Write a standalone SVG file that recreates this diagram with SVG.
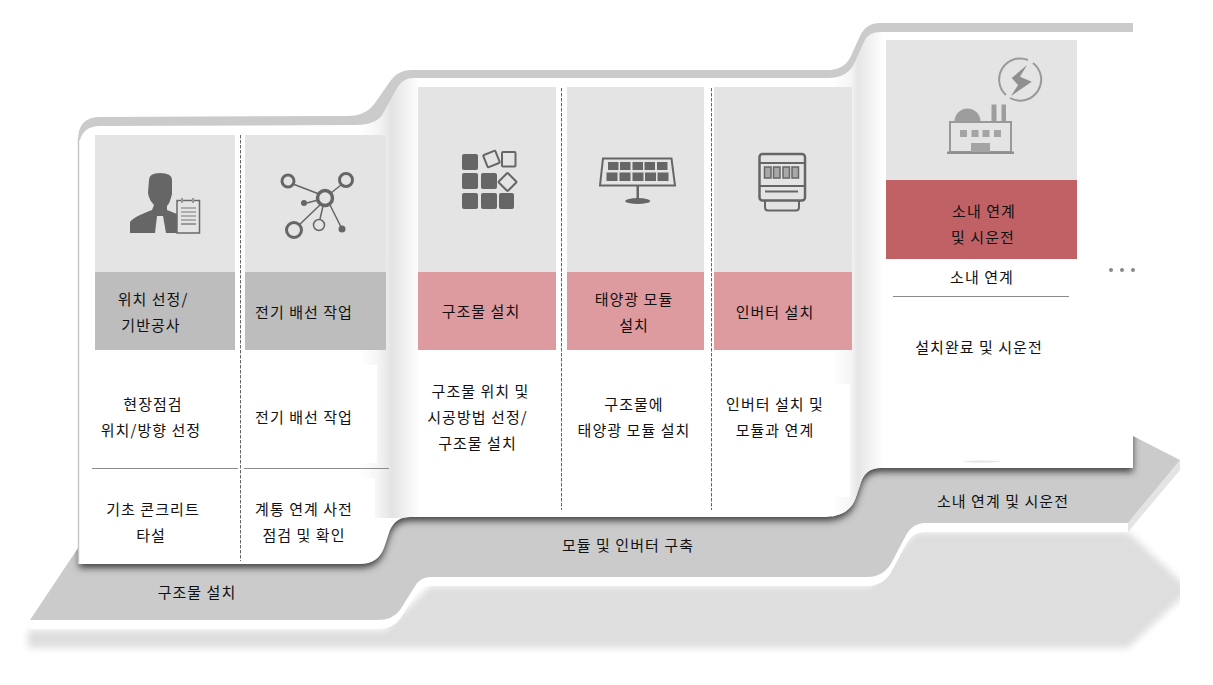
<svg xmlns="http://www.w3.org/2000/svg" width="1213" height="685" viewBox="0 0 1213 685">
<style>
text{font-family:"Noto Sans CJK KR","Liberation Sans",sans-serif;font-size:15px;letter-spacing:1.05px;fill:#111;text-anchor:middle}
.top{fill:#e4e4e4}.gr{fill:#bdbdbd}.pk{fill:#dd9a9f}.rd{fill:#c06165}
.ic{fill:#666}.ol{fill:none;stroke:#666;stroke-width:2}
.dash{stroke:#666;stroke-width:1;stroke-dasharray:3.500 1.500;fill:none}
.rule{stroke:#8c8c8c;stroke-width:1;fill:none}
</style>
<defs>
<path id="arrow" d="M30,620 L80,545 L80,480 L1133,436 L1180,460 L1128,523 L925,523 Q912,523 905,537 L893,560 Q885,577 867,577 L430,577 Q423,577 417,583 L400,610 Q393,620 377,620 Z"/>
<path id="body" d="M79,140 Q79,126 100,126 L355,126 Q378,125 384,112 L396,90 Q402,78 413,78 L828,78 Q848,78 855,62 L864,42 Q868,32 880,32 L1133,32 L1133,468 L880,468 Q866,468 861,482 L856,497 Q850,516 826,517 L410,517 Q396,517 390,530 L384,548 Q378,564 360,564 L79,564 Z"/>
<clipPath id="arrowClip"><use href="#arrow"/></clipPath>
<clipPath id="bodyClip"><use href="#body"/></clipPath>
<clipPath id="pageClip"><rect x="0" y="0" width="1180" height="685"/></clipPath>
<filter id="b3" x="-5%" y="-20%" width="110%" height="140%"><feGaussianBlur stdDeviation="3.500"/></filter>
<filter id="b4" x="-5%" y="-10%" width="110%" height="120%"><feGaussianBlur stdDeviation="3.500"/></filter>
<linearGradient id="fold1" gradientUnits="userSpaceOnUse" x1="360" x2="420" y1="0" y2="0"><stop offset="0" stop-color="#fff"/><stop offset=".3" stop-color="#f5f5f5"/><stop offset=".53" stop-color="#e3e3e3"/><stop offset="1" stop-color="#fff"/></linearGradient>
<linearGradient id="fold2" gradientUnits="userSpaceOnUse" x1="832" x2="884" y1="0" y2="0"><stop offset="0" stop-color="#fff"/><stop offset=".35" stop-color="#f5f5f5"/><stop offset=".5" stop-color="#e6e6e6"/><stop offset="1" stop-color="#fff"/></linearGradient>
</defs>

<g id="base">
<g clip-path="url(#pageClip)"><path filter="url(#b3)" fill="#dedede" d="M28,630 L385,630 L430,586 L870,586 L915,532 L1128,532 L1190,590 L1128,648 L28,648 Z"/></g>
<use href="#arrow" transform="translate(0,9)" fill="#fff"/>
<path fill="#e4e4e4" d="M1128,523 L1180,460 L1180,470 L1128,532 Z"/>
<use href="#arrow" fill="#cbcbcb"/>
<g clip-path="url(#arrowClip)"><use href="#body" transform="translate(0,4)" fill="#444" filter="url(#b4)"/></g>
<use href="#body" fill="#fff"/>
<g clip-path="url(#bodyClip)">
<rect x="360" y="70" width="60" height="448" fill="url(#fold1)"/>
<rect x="832" y="20" width="52" height="498" fill="url(#fold2)"/>
</g>
<rect x="245" y="365" width="132" height="98" fill="#fff"/>
<rect x="245" y="478" width="130" height="82" fill="#fff"/>
<rect x="714" y="384" width="136" height="113" fill="#fff"/>
<ellipse cx="982" cy="461.500" rx="18" ry="1" fill="#e6e6e6"/>
<path fill="#cbcbcb" d="M78,140 Q78,117 100,117 L345,116 Q365,117 375,103 L389,83 Q397,70 412,70 L830,70 Q845,69 851,56 L860,36 Q866,23 880,23 L1133,23 L1133,32 L880,32 Q868,32 864,42 L855,62 Q848,78 828,78 L413,78 Q402,78 396,90 L384,112 Q378,125 355,125 L100,126 Q84,126 80,140 Z"/>
<path d="M78.500,138 V564" stroke="#c8c8c8" stroke-width="1.500" fill="none"/>
</g>

<g id="dividers">
<path class="dash" d="M240.500,135 V561"/>
<path class="dash" d="M561.500,88 V510"/>
<path class="dash" d="M711.500,88 V510"/>
<path class="rule" d="M92,468.500 H238 M244,468.500 H389 M893,296.500 H1069"/>
</g>

<g id="node-site">
<rect class="top" x="95" y="135" width="140" height="137"/>
<rect class="gr" x="95" y="272" width="140" height="78"/>
<path class="ic" d="M149,180 Q149,173 160,173 Q172,173 172,180 L172,194 Q170,203 167,206 L167,210 L177,214 L177,233 L166,233 L163,216 L157,216 L155,233 L130,233 L130,222 Q133,217 152,210 L154,205 Q149,200 148,193 Z"/>
<rect x="177" y="200.500" width="22.500" height="32.500" fill="#e4e4e4" stroke="#6a6a6a" stroke-width="1.500"/>
<path stroke="#777" stroke-width="1.200" fill="none" d="M181,208 H196 M181,212 H196 M181,216 H196 M181,220 H196"/>
<path stroke="#999" stroke-width="2" fill="none" d="M181,224 H196 M182,198 V203 M193,198 V203"/>
<text x="153" y="305">위치 선정/</text><text x="151" y="331">기반공사</text>
<text x="153" y="410">현장점검</text><text x="151" y="436">위치/방향 선정</text>
<text x="153" y="515">기초 콘크리트</text><text x="151" y="541">타설</text>
</g>

<g id="node-wiring">
<rect class="top" x="245" y="135" width="141" height="137"/>
<rect class="gr" x="245" y="272" width="141" height="78"/>
<path stroke="#666" stroke-width="1.500" fill="none" d="M293,184 L319,194 M331,193 L341,185 M320,205 L298,226 M323,206 L320,219 M330,205 L341,227 M307,203 L318,200"/>
<circle cx="325" cy="198" r="7.500" fill="#e4e4e4" stroke="#666" stroke-width="3.500"/>
<circle cx="288" cy="181" r="6" fill="#e4e4e4" stroke="#666" stroke-width="3"/>
<circle cx="346" cy="180" r="6.500" fill="#e4e4e4" stroke="#666" stroke-width="3"/>
<circle cx="294" cy="230" r="7.500" fill="#e4e4e4" stroke="#666" stroke-width="3"/>
<circle cx="319" cy="225" r="5.500" fill="#e4e4e4" stroke="#666" stroke-width="1.500"/>
<circle class="ic" cx="304" cy="203" r="3"/><circle class="ic" cx="342" cy="229" r="3.500"/>
<text x="304" y="318">전기 배선 작업</text>
<text x="304" y="423">전기 배선 작업</text>
<text x="304" y="515">계통 연계 사전</text><text x="304" y="541">점검 및 확인</text>
</g>

<g id="node-structure">
<rect class="top" x="418" y="87" width="138" height="185"/>
<rect class="pk" x="418" y="272" width="138" height="78"/>
<g class="ic"><rect x="462" y="154" width="16" height="16" rx="2"/><rect x="462" y="173" width="16" height="16" rx="2"/><rect x="481" y="173" width="16" height="16" rx="2"/><rect x="462" y="193" width="16" height="16" rx="2"/><rect x="481" y="193" width="16" height="16" rx="2"/><rect x="499" y="193" width="15" height="16" rx="2"/></g>
<rect class="ol" x="485" y="152.500" width="13" height="13" rx="1" transform="rotate(-22 491.500 159)"/>
<rect class="ol" x="502" y="152" width="13.500" height="14.500" rx="1"/>
<rect class="ol" x="501" y="175.500" width="13" height="13" rx="1" transform="rotate(45 507.500 182)"/>
<text x="481" y="317">구조물 설치</text>
<text x="480.500" y="397">구조물 위치 및</text><text x="477.500" y="423">시공방법 선정/</text><text x="477.500" y="449">구조물 설치</text>
</g>

<g id="node-module">
<rect class="top" x="567" y="87" width="137" height="185"/>
<rect class="pk" x="567" y="272" width="137" height="78"/>
<path fill="none" stroke="#666" stroke-width="2" d="M603,158.500 H671.500 L675,185.500 H600 Z"/>
<g class="ic"><rect x="608" y="162" width="10.500" height="8"/><rect x="620" y="162" width="10.500" height="8"/><rect x="632.500" y="162" width="10.500" height="8"/><rect x="644.500" y="162" width="10.500" height="8"/><rect x="657" y="162" width="10.500" height="8"/>
<rect x="606.500" y="172.500" width="11" height="8.500"/><rect x="619.500" y="172.500" width="11" height="8.500"/><rect x="632.500" y="172.500" width="11" height="8.500"/><rect x="645" y="172.500" width="11" height="8.500"/><rect x="657.500" y="172.500" width="11" height="8.500"/>
<rect x="636.500" y="186" width="2.500" height="13"/><ellipse cx="637.700" cy="201" rx="12.500" ry="3"/></g>
<text x="634" y="305">태양광 모듈</text><text x="634" y="331">설치</text>
<text x="634" y="410">구조물에</text><text x="634" y="436">태양광 모듈 설치</text>
</g>

<g id="node-inverter">
<rect class="top" x="714" y="87" width="138" height="185"/>
<rect class="pk" x="714" y="272" width="138" height="78"/>
<rect class="ol" x="759.500" y="154" width="45.500" height="46.500" rx="3" style="stroke-width:2.500"/>
<path class="ol" d="M759,163 H805 M759,186 H805 M765,191.500 H798"/>
<path class="ol" d="M765,200.500 V207 Q765,210.500 768,210.500 H796 Q799,210.500 799,207 V200.500"/>
<g fill="#a8a8a8" stroke="#666" stroke-width="1.500"><rect x="764.500" y="167" width="6.500" height="11"/><rect x="773.500" y="167" width="6.500" height="11"/><rect x="783" y="167" width="6.500" height="11"/><rect x="792" y="167" width="6.500" height="11"/></g>
<text x="775" y="318">인버터 설치</text>
<text x="775" y="410">인버터 설치 및</text><text x="775" y="436">모듈과 연계</text>
</g>

<g id="node-grid">
<rect class="top" x="886" y="40" width="191" height="140"/>
<rect class="rd" x="886" y="180" width="191" height="79"/>
<path fill="none" stroke="#9a9a9a" stroke-width="2" d="M1010,98 A21,21 0 0 0 1033,63 M1028,60 A21,21 0 0 0 1006,95"/>
<polygon fill="#8f8f8f" points="1011.700,78 1027,65 1020,76.700 1031.700,81.700 1011,96 1018,85"/>
<rect x="950" y="122" width="61" height="30" fill="none" stroke="#999" stroke-width="2"/>
<rect x="947" y="151.500" width="67" height="2.500" fill="#8f8f8f"/>
<path fill="#9d9d9d" d="M954.500,121.500 A13,13 0 0 1 980.500,121.500 Z M991.500,121.500 V104.500 H996.500 V121.500 Z M1001.500,121.500 V104.500 H1006 V121.500 Z"/>
<g fill="#a4a4a4"><rect x="960" y="130" width="7" height="7"/><rect x="971.500" y="130" width="7" height="7"/><rect x="982.500" y="130" width="7" height="7"/><rect x="994" y="130" width="7" height="7"/><rect x="971" y="143" width="19" height="9"/></g>
<text x="984" y="217">소내 연계</text><text x="983" y="243">및 시운전</text>
<text x="982" y="283">소내 연계</text>
<text x="979" y="353">설치완료 및 시운전</text>
<g fill="#888"><circle cx="1111" cy="270" r="2"/><circle cx="1122" cy="270" r="2"/><circle cx="1133" cy="270" r="2"/></g>
</g>

<g id="phase-labels">
<text x="197" y="598">구조물 설치</text>
<text x="628" y="551">모듈 및 인버터 구축</text>
<text x="1003" y="507">소내 연계 및 시운전</text>
</g>
<g id="connectors"/>
</svg>
